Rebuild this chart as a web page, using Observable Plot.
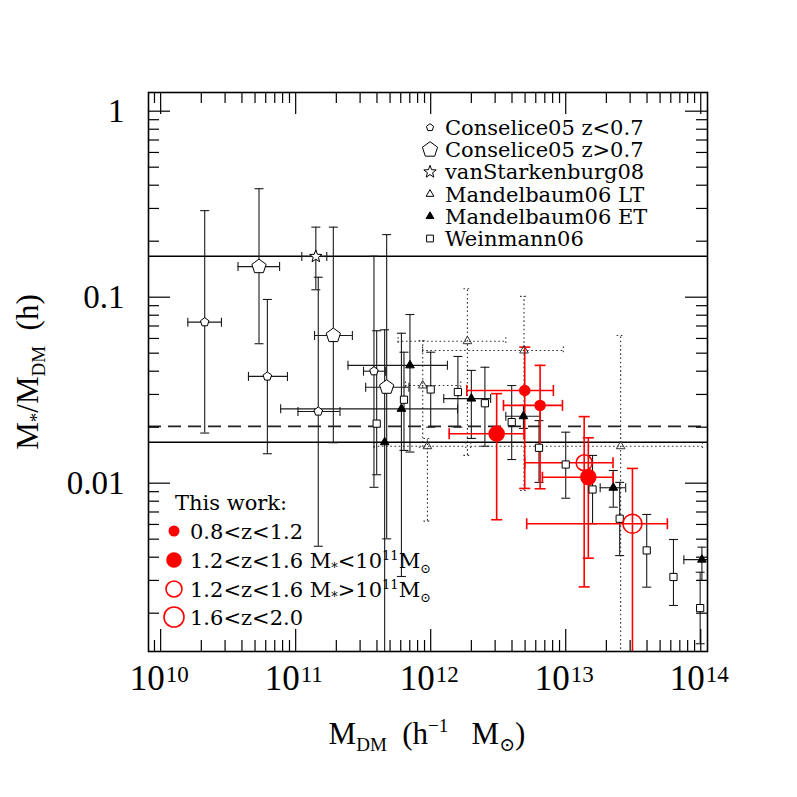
<!DOCTYPE html>
<html>
<head>
<meta charset="utf-8">
<script src="https://cdn.jsdelivr.net/npm/d3@7"></script>
<script src="https://cdn.jsdelivr.net/npm/@observablehq/plot@0.6"></script>
<style>
  html, body { margin: 0; padding: 0; background: #fff; }
  #chart svg { display: block; }
</style>
</head>
<body>
<div id="chart"></div>
<script>
// ---------------- data (each row: [x, xLo, xHi, y, yLo, yHi]) ----------------
const conselice05Low = [
  [2.12e10, 1.59e10, 2.82e10, 0.0734, 0.0186, 0.292],
  [6.17e10, 4.47e10, 8.69e10, 0.0375, 0.0144, 0.0972],
  [1.47e11, 1.04e11, 2.13e11, 0.0243, 0.00458, 0.128],
  [3.80e11, 3.18e11, 4.64e11, 0.0400, 0.0095, 0.166]
];
const conselice05High = [
  [5.35e10, 3.74e10, 7.60e10, 0.146, 0.0562, 0.383],
  [1.90e11, 1.38e11, 2.63e11, 0.0622, 0.0165, 0.238],
  [4.72e11, 3.30e11, 6.90e11, 0.0328, 0.00502, 0.217]
];
const vanStarkenburg08 = [
  [1.41e11, 1.11e11, 1.70e11, 0.1655, 0.1096, 0.238]
];
const mandelbaum06LT = [
  [1.87e12, 5.73e11, 3.60e12, 0.0580, 0.0141, 0.111],
  [4.91e12, 8.70e11, 9.60e12, 0.0517, 0.00914, 0.101],
  [8.73e11, 6.50e11, 1.67e12, 0.0335, 0.0156, 0.0585],
  [9.46e11, 3.80e11, 1.82e12, 0.0158, 0.00625, 0.0174],
  [2.55e13, 1.98e12, 1.03e14, 0.0158, 0.0008, 0.0622]
];
const mandelbaum06ET = [
  [7.02e11, 2.44e11, 1.33e12, 0.0430, 0.0147, 0.0807],
  [6.07e11, 7.74e10, 1.58e12, 0.0251, 0.00315, 0.0640],
  [4.56e11, null, null, 0.0166, 0.0001, 0.0668],
  [2.00e12, 1.25e12, 2.78e12, 0.0285, 0.0174, 0.0404],
  [4.86e12, 3.60e12, 6.46e12, 0.0229, 0.0197, 0.0262],
  [2.25e13, 1.80e13, 2.78e13, 0.00945, 0.00743, 0.0117],
  [1.02e14, 7.50e13, 1.30e14, 0.00388, 0.0030, 0.00453]
];
const weinmann06 = [
  [3.98e11, null, null, 0.0209, 0.0111, 0.066],
  [6.34e11, null, null, 0.0281, 0.0150, 0.0506],
  [1.00e12, null, null, 0.0319, 0.0200, 0.0506],
  [1.59e12, null, null, 0.0309, 0.0200, 0.0480],
  [2.52e12, null, null, 0.0269, 0.0158, 0.0420],
  [3.98e12, null, null, 0.0213, 0.0134, 0.0335],
  [6.34e12, null, null, 0.0155, 0.0101, 0.0217],
  [1.00e13, null, null, 0.0126, 0.0083, 0.0188],
  [1.58e13, null, null, 0.00925, 0.00605, 0.0141],
  [2.51e13, null, null, 0.00644, 0.00408, 0.0101],
  [3.98e13, null, null, 0.00435, 0.00276, 0.00679],
  [6.28e13, null, null, 0.00313, 0.0022, 0.00498],
  [9.90e13, null, null, 0.00213, 0.00137, 0.00332]
];
// This work
const work08to12 = [
  [4.97e12, 1.85e12, 8.10e12, 0.0315, 0.00937, 0.0539],
  [6.46e12, 3.46e12, 9.46e12, 0.0262, 0.00933, 0.0430]
];
const work12to16Low = [
  [3.08e12, 1.37e12, 4.91e12, 0.01844, 0.00636, 0.0303],
  [1.47e13, 6.72e12, 2.24e13, 0.01077, 0.00395, 0.01754]
];
const work12to16High = [
  [1.37e13, 4.97e12, 2.24e13, 0.01288, 0.00277, 0.0228]
];
const work16to20 = [
  [3.12e13, 5.14e12, 5.66e13, 0.00605, 0.0008, 0.0120]
];
const solidLines = [0.166, 0.0166];
const dashedLines = [0.0202];

const xMajorTicks = [1e10, 1e11, 1e12, 1e13, 1e14];
const xTickExponents = ["10", "11", "12", "13", "14"];
const yMajorTicks = [1, 0.1, 0.01];
const yTickLabels = ["1", "0.1", "0.01"];
const legendLabels = ["Conselice05 z<0.7", "Conselice05 z>0.7", "vanStarkenburg08",
                      "Mandelbaum06 LT", "Mandelbaum06 ET", "Weinmann06"];
const workLegendLabels = ["0.8<z<1.2", "1.2<z<1.6", "1.2<z<1.6", "1.6<z<2.0"];

// ---------------- layout ----------------
const W = 797, H = 797;
const mL = 148, mT = 92, mR = 90, mB = 146;
const plotW = W - mL - mR, plotH = H - mT - mB;
const xDomain = [10 ** 9.91, 10 ** 14.05];
const yDomain = [10 ** -2.905, 10 ** 0.1005];

const inDomain = (v, d) => v >= d[0] && v <= d[1];
const minorOf = (ks, d, majors) => {
  const out = [];
  for (const k of ks) for (let m = 2; m <= 9; m++) {
    const v = m * 10 ** k;
    if (inDomain(v, d) && !majors.includes(v)) out.push(v);
  }
  return out;
};
const xMinorTicks = minorOf([9, 10, 11, 12, 13], xDomain, xMajorTicks);
const yMinorTicks = minorOf([-3, -2, -1, 0], yDomain, yMajorTicks);

// ---------------- symbols ----------------
const rOf = size => Math.sqrt(size / Math.PI);
const polygon = (n, startAngle) => ({
  draw(ctx, size) {
    const r = rOf(size);
    for (let i = 0; i < n; i++) {
      const a = startAngle + 2 * Math.PI * i / n;
      const px = r * Math.cos(a), py = r * Math.sin(a);
      if (i === 0) ctx.moveTo(px, py); else ctx.lineTo(px, py);
    }
    ctx.closePath();
  }
});
const pentagon = polygon(5, -Math.PI / 2);
const triangleUp = polygon(3, -Math.PI / 2);
const squareSym = {
  draw(ctx, size) {
    const r = rOf(size);
    ctx.moveTo(-r, -r); ctx.lineTo(r, -r); ctx.lineTo(r, r); ctx.lineTo(-r, r); ctx.closePath();
  }
};
const starSym = {
  draw(ctx, size) {
    const r = rOf(size), ri = r * 0.42;
    for (let i = 0; i < 10; i++) {
      const a = -Math.PI / 2 + Math.PI * i / 5;
      const rr = i % 2 ? ri : r;
      const px = rr * Math.cos(a), py = rr * Math.sin(a);
      if (i === 0) ctx.moveTo(px, py); else ctx.lineTo(px, py);
    }
    ctx.closePath();
  }
};
const hcap = { draw(ctx, size) { const r = rOf(size); ctx.moveTo(-r, 0); ctx.lineTo(r, 0); } };
const vcap = { draw(ctx, size) { const r = rOf(size); ctx.moveTo(0, -r); ctx.lineTo(0, r); } };

const toRows = a => a.map(([x, xlo, xhi, y, ylo, yhi]) => ({x, xlo, xhi, y, ylo, yhi}));

function errorBars(arr, {stroke, sw = 1, dash, capR = 4.5}) {
  const rows = toRows(arr);
  const common = {stroke, strokeWidth: sw, clip: true};
  if (dash) common.strokeDasharray = dash;
  const wy = rows.filter(d => d.ylo != null);
  const wx = rows.filter(d => d.xlo != null);
  return [
    Plot.ruleX(wy, {x: "x", y1: "ylo", y2: "yhi", ...common}),
    Plot.ruleY(wx, {y: "y", x1: "xlo", x2: "xhi", ...common}),
    Plot.dot(wy, {x: "x", y: "ylo", symbol: hcap, r: capR, fill: "none", ...common}),
    Plot.dot(wy, {x: "x", y: "yhi", symbol: hcap, r: capR, fill: "none", ...common}),
    Plot.dot(wx, {x: "xlo", y: "y", symbol: vcap, r: capR, fill: "none", ...common}),
    Plot.dot(wx, {x: "xhi", y: "y", symbol: vcap, r: capR, fill: "none", ...common})
  ];
}
const points = (arr, opts) => Plot.dot(toRows(arr), {x: "x", y: "y", clip: true, ...opts});

const BLK = "#1a1a1a", GRY = "#333", RED = "#ff0000";
const majorLen = 22, minorLen = 11;

const plot = Plot.plot({
  width: W, height: H,
  marginLeft: mL, marginTop: mT, marginRight: mR, marginBottom: mB,
  x: {type: "log", domain: xDomain, axis: null},
  y: {type: "log", domain: yDomain, axis: null},
  style: {background: "white", fontFamily: "Liberation Serif"},
  marks: [
    // reference lines
    Plot.ruleY(solidLines, {y: d => d, stroke: "black", strokeWidth: 1.3}),
    Plot.ruleY(dashedLines, {y: d => d, stroke: "#222", strokeWidth: 1.6, strokeDasharray: "13,7"}),
    // error bars
    ...errorBars(mandelbaum06LT, {stroke: GRY, sw: 1.1, dash: "1.6,2.6", capR: 4}),
    ...errorBars(conselice05Low, {stroke: BLK, sw: 1.1}),
    ...errorBars(conselice05High, {stroke: BLK, sw: 1.1}),
    ...errorBars(vanStarkenburg08, {stroke: BLK, sw: 1.1}),
    ...errorBars(mandelbaum06ET, {stroke: BLK, sw: 1.1}),
    ...errorBars(weinmann06, {stroke: BLK, sw: 1.1}),
    ...errorBars(work08to12, {stroke: RED, sw: 1.6, capR: 5.5}),
    ...errorBars(work12to16Low, {stroke: RED, sw: 1.6, capR: 5.5}),
    ...errorBars(work12to16High, {stroke: RED, sw: 1.6, capR: 5.5}),
    ...errorBars(work16to20, {stroke: RED, sw: 1.6, capR: 5.5}),
    // symbols
    points(mandelbaum06LT, {symbol: triangleUp, r: 5, fill: "none", stroke: "#333", strokeWidth: 1}),
    points(conselice05Low, {symbol: pentagon, r: 4.5, fill: "white", stroke: "black", strokeWidth: 1}),
    points(conselice05High, {symbol: pentagon, r: 7.5, fill: "white", stroke: "black", strokeWidth: 1}),
    points(vanStarkenburg08, {symbol: starSym, r: 6.5, fill: "white", stroke: "black", strokeWidth: 1}),
    points(mandelbaum06ET, {symbol: triangleUp, r: 5, fill: "black", stroke: "black", strokeWidth: 1}),
    points(weinmann06, {symbol: squareSym, r: 3.6, fill: "white", stroke: "black", strokeWidth: 1}),
    points(work08to12, {r: 5, fill: RED, stroke: RED}),
    points(work12to16Low, {r: 7.5, fill: RED, stroke: RED}),
    points(work12to16High, {r: 8, fill: "none", stroke: RED, strokeWidth: 1.6}),
    points(work16to20, {r: 9.5, fill: "none", stroke: RED, strokeWidth: 1.6}),
    // ticks (inside, all four sides)
    Plot.tickX(xMajorTicks, {x: d => d, insetTop: plotH - majorLen, stroke: "black", strokeWidth: 1.2}),
    Plot.tickX(xMajorTicks, {x: d => d, insetBottom: plotH - majorLen, stroke: "black", strokeWidth: 1.2}),
    Plot.tickX(xMinorTicks, {x: d => d, insetTop: plotH - minorLen, stroke: "black", strokeWidth: 1.2}),
    Plot.tickX(xMinorTicks, {x: d => d, insetBottom: plotH - minorLen, stroke: "black", strokeWidth: 1.2}),
    Plot.tickY(yMajorTicks, {y: d => d, insetRight: plotW - majorLen, stroke: "black", strokeWidth: 1.2}),
    Plot.tickY(yMajorTicks, {y: d => d, insetLeft: plotW - majorLen, stroke: "black", strokeWidth: 1.2}),
    Plot.tickY(yMinorTicks, {y: d => d, insetRight: plotW - minorLen, stroke: "black", strokeWidth: 1.2}),
    Plot.tickY(yMinorTicks, {y: d => d, insetLeft: plotW - minorLen, stroke: "black", strokeWidth: 1.2}),
    // tick labels
    Plot.text(xMajorTicks, {x: d => d, frameAnchor: "bottom", text: () => "10", textAnchor: "end",
      dx: 4, dy: 38, fontSize: 35, fill: "black"}),
    Plot.text(xMajorTicks, {x: d => d, frameAnchor: "bottom", text: (d, i) => xTickExponents[i], textAnchor: "start",
      dx: 5, dy: 30, fontSize: 23, fill: "black"}),
    Plot.text(yMajorTicks, {y: d => d, frameAnchor: "left", text: (d, i) => yTickLabels[i], textAnchor: "end",
      dx: -24, fontSize: 33, fill: "black"}),
    Plot.frame({stroke: "black", strokeWidth: 1.6})
  ]
});

document.getElementById("chart").appendChild(plot);

// ---------------- titles & legends (real SVG text) ----------------
const svg = d3.select(plot);
function richText(parent, segs, attrs) {
  const t = parent.append("text").attr("text-anchor", "start");
  for (const [k, v] of Object.entries(attrs)) t.attr(k, v);
  let cur = 0;
  for (const s of segs) {
    const shift = s.shift || 0;
    t.append("tspan").attr("dy", shift - cur).attr("font-size", s.size).text(s.t);
    cur = shift;
  }
  return t;
}
const serif = "Liberation Serif, DejaVu Serif, serif";
const lserif = "DejaVu Serif, Liberation Serif, serif";

// x title
richText(svg, [
  {t: "M", size: 31}, {t: "DM", size: 19, shift: 7},
  {t: "\u00a0\u00a0(h", size: 31}, {t: "−1", size: 19, shift: -12},
  {t: "\u00a0\u00a0\u00a0M", size: 31}, {t: "⊙", size: 19, shift: 7}, {t: ")", size: 31}
], {x: 427, y: 744, "text-anchor": "middle", "font-family": serif, fill: "black"});

// y title
const yt = svg.append("g").attr("transform", "translate(38,372) rotate(-90)");
richText(yt, [
  {t: "M", size: 31}, {t: "*", size: 19, shift: 5}, {t: "/", size: 31},
  {t: "M", size: 31}, {t: "DM", size: 19, shift: 7}, {t: "\u00a0\u00a0(h)", size: 31}
], {x: 0, y: 0, "text-anchor": "middle", "font-family": serif, fill: "black"});

// top-right legend
const legSyms = [
  {sym: pentagon, r: 3.8, fill: "white", stroke: "black"},
  {sym: pentagon, r: 8, fill: "white", stroke: "black"},
  {sym: starSym, r: 6.5, fill: "white", stroke: "black"},
  {sym: triangleUp, r: 4.5, fill: "white", stroke: "black"},
  {sym: triangleUp, r: 4.5, fill: "black", stroke: "black"},
  {sym: squareSym, r: 3.4, fill: "white", stroke: "black"}
];
const leg = svg.append("g");
legendLabels.forEach((lab, i) => {
  const y = 127.5 + 22.2 * i;
  const s = legSyms[i];
  leg.append("path").attr("d", d3.symbol(s.sym, Math.PI * s.r * s.r)())
    .attr("transform", `translate(430,${y})`).attr("fill", s.fill).attr("stroke", s.stroke).attr("stroke-width", 1);
  leg.append("text").attr("x", 445).attr("y", y).attr("dy", "0.36em").attr("text-anchor", "start")
    .attr("font-family", lserif).attr("font-size", 21).attr("fill", "black").text(lab);
});

// bottom-left legend (this work)
const leg2 = svg.append("g");
leg2.append("text").attr("x", 175).attr("y", 502).attr("dy", "0.36em").attr("text-anchor", "start")
  .attr("font-family", lserif).attr("font-size", 21).attr("fill", "black").text("This work:");
const workSyms = [
  {r: 4.7, fill: RED, stroke: RED}, {r: 7, fill: RED, stroke: RED},
  {r: 8, fill: "none", stroke: RED}, {r: 10, fill: "none", stroke: RED}
];
const workY = [531, 560, 589, 617];
workLegendLabels.forEach((lab, i) => {
  const s = workSyms[i];
  leg2.append("circle").attr("cx", 174).attr("cy", workY[i]).attr("r", s.r)
    .attr("fill", s.fill).attr("stroke", s.stroke).attr("stroke-width", 1.6);
  const segs = [{t: lab, size: 21}];
  if (i === 1 || i === 2) {
    segs.push({t: "\u00a0M", size: 21}, {t: "*", size: 13, shift: 4},
      {t: i === 1 ? "<10" : ">10", size: 21}, {t: "11", size: 13, shift: -8},
      {t: "M", size: 21}, {t: "⊙", size: 13, shift: 5});
  }
  richText(leg2, segs, {x: 190, y: workY[i] + 7.5, "font-family": lserif, fill: "black"});
});
</script>
</body>
</html>
